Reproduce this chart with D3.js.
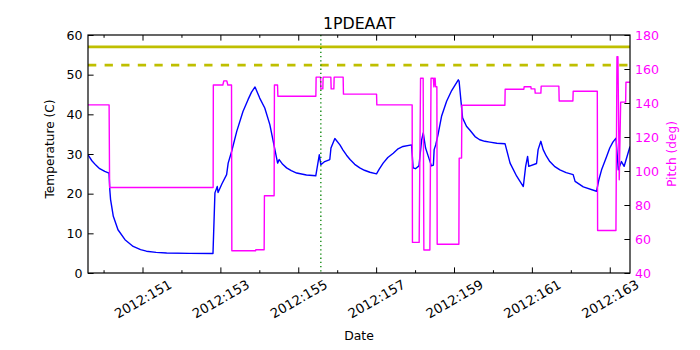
<!DOCTYPE html>
<html>
<head>
<meta charset="utf-8">
<script src="https://cdn.jsdelivr.net/npm/d3@7"></script>
<style>
body { margin: 0; background: #fff; }
text { font-family: "DejaVu Sans", sans-serif; }
</style>
</head>
<body>
<div id="chart"></div>
<script>
var title = "1PDEAAT";
// day of year 2012
var tempDay = [149.60,149.70,149.80,149.90,150.03,150.14,150.16,150.18,150.25,150.37,150.55,150.76,150.95,151.10,151.35,151.62,152.20,152.81,152.86,152.92,
			   152.94,153.04,153.16,153.20,153.29,153.42,153.58,153.71,153.80,153.89,154.01,154.14,154.27,154.40,154.47,154.51,154.60,154.70,154.82,154.96,
			   155.21,155.45,155.54,155.58,155.68,155.81,155.84,155.94,156.07,156.15,156.24,156.33,156.45,156.58,156.70,156.84,157.01,157.08,157.18,157.30,
			   157.44,157.55,157.69,157.91,157.95,158.01,158.10,158.17,158.21,158.27,158.34,158.42,158.47,158.49,158.53,158.59,158.68,158.81,158.94,159.11,
			   159.13,159.22,159.32,159.41,159.54,159.66,159.79,159.92,160.10,160.31,160.44,160.61,160.78,160.84,160.89,160.92,161.12,161.16,161.23,161.29,
			   161.37,161.46,161.58,161.72,161.88,162.06,162.11,162.32,162.66,162.72,162.79,162.92,163.00,163.08,163.16,163.22,163.30,163.37,163.52];
var tempVal = [29.8,28.3,27.2,26.3,25.6,25.2,21.0,18.5,14.3,10.9,8.4,6.7,5.9,5.5,5.2,5.05,4.95,4.9,20.2,21.8,
			   20.3,22.5,24.8,27.7,30.7,35.7,40.7,43.7,45.6,46.9,44.1,41.6,37.4,31.1,27.7,28.6,27.4,26.5,25.8,25.2,
			   24.7,24.5,29.8,27.3,28.1,28.6,31.5,33.9,32.3,31.0,29.7,28.6,27.4,26.5,25.9,25.4,25.0,26.2,27.7,29.1,
			   30.2,31.2,31.9,32.3,26.5,26.3,27.0,33.6,35.3,31.5,29.4,27.0,27.2,31.1,32.3,34.9,39.5,43.3,46.0,48.7,
			   48.4,39.1,37.0,36.0,34.4,33.6,33.2,33.0,32.7,32.6,27.7,24.4,21.8,26.9,29.4,26.9,27.6,31.1,33.2,31.1,
			   29.5,28.1,26.9,26.0,25.3,24.8,23.1,21.7,20.6,23.5,26.0,29.4,31.5,33.0,34.0,26.0,28.1,26.9,31.9];
var pitchDay = [149.60,150.142,150.155,152.814,152.819,153.063,153.088,153.165,153.191,153.286,153.294,153.903,153.910,154.124,154.131,154.380,
				154.388,154.468,154.476,155.452,155.459,155.572,155.580,155.631,155.639,155.837,155.845,155.914,155.922,156.153,156.161,157.011,
				157.018,157.925,157.933,158.105,158.141,158.208,158.226,158.380,158.410,158.470,158.483,158.501,158.516,158.526,158.560,158.568,
				159.125,159.133,159.194,159.202,160.307,160.314,160.794,160.802,160.974,160.982,161.077,161.085,161.231,161.239,161.693,161.701,
				162.053,162.061,162.680,162.688,163.159,163.185,163.210,163.244,163.280,163.408,163.416,163.518];
var pitchVal = [138.9,138.9,90.3,90.3,150.6,150.6,153.0,153.0,150.6,150.6,53.1,53.1,53.7,53.7,85.4,85.4,
				150.6,150.6,144.0,144.0,155.2,155.2,148.3,148.3,155.2,155.2,148.3,148.3,155.2,155.2,145.2,145.2,
				138.9,138.9,58.0,58.0,154.6,154.6,53.5,53.5,154.6,154.6,149.5,154.6,154.6,149.6,149.6,56.9,
				56.9,107.6,107.6,138.7,138.7,148.1,148.1,149.6,149.6,148.3,148.3,145.8,145.8,149.9,149.9,141.2,
				141.2,146.9,146.9,65.0,65.0,167.3,167.3,94.8,140.5,140.5,152.2,152.2];

var tempTicks = [0, 10, 20, 30, 40, 50, 60];
var pitchTicks = [40, 60, 80, 100, 120, 140, 160, 180];
var majorDays = [151, 153, 155, 157, 159, 161, 163];
var minorDays = [150, 152, 154, 156, 158, 160, 162];
var dayRange = [149.6, 163.52];
var limitHigh = 57.0;
var limitLow = 52.4;
var markerDay = 155.58;

// plot box (window.top is taken, so no plain "top")
var pL = 88, pR = 630, pT = 35, pB = 273;
var magenta = "#ff00ff";

var svg = d3.select("#chart").append("svg")
	.attr("width", 700)
	.attr("height", 350);

var x = d3.scaleLinear().domain(dayRange).range([pL, pR]);
var yT = d3.scaleLinear().domain([0, 60]).range([pB, pT]);
var yP = d3.scaleLinear().domain([40, 180]).range([pB, pT]);

svg.append("clipPath").attr("id", "plotclip")
	.append("rect")
	.attr("x", pL).attr("y", pT)
	.attr("width", pR - pL).attr("height", pB - pT);

var plot = svg.append("g").attr("clip-path", "url(#plotclip)");

// limit lines
plot.append("line")
	.attr("x1", pL).attr("x2", pR)
	.attr("y1", yT(limitHigh)).attr("y2", yT(limitHigh))
	.attr("stroke", "#bfbf00").attr("stroke-width", 2.8);
plot.append("line")
	.attr("x1", pL).attr("x2", pR)
	.attr("y1", yT(limitLow)).attr("y2", yT(limitLow))
	.attr("stroke", "#bfbf00").attr("stroke-width", 2.8)
	.attr("stroke-dasharray", "8.3,8.3");

var tempLine = d3.line()
	.x(function (d) { return x(d[0]); })
	.y(function (d) { return yT(d[1]); });
var pitchLine = d3.line()
	.x(function (d) { return x(d[0]); })
	.y(function (d) { return yP(d[1]); });

plot.append("path")
	.datum(d3.zip(tempDay, tempVal))
	.attr("d", tempLine)
	.attr("fill", "none")
	.attr("stroke", "#0000ff")
	.attr("stroke-width", 1.4)
	.attr("stroke-linejoin", "round");

plot.append("path")
	.datum(d3.zip(pitchDay, pitchVal))
	.attr("d", pitchLine)
	.attr("fill", "none")
	.attr("stroke", magenta)
	.attr("stroke-width", 1.4)
	.attr("stroke-linejoin", "round");

plot.append("line")
	.attr("x1", x(markerDay)).attr("x2", x(markerDay))
	.attr("y1", pT).attr("y2", pB)
	.attr("stroke", "#008000").attr("stroke-width", 1.3)
	.attr("stroke-dasharray", "1.3,2.9");

// axes
function styleAxis(g) {
	g.select(".domain").remove();
	g.selectAll("line").attr("stroke", "#000").attr("stroke-width", 1);
	g.attr("font-size", 12.6).attr("font-family", "DejaVu Sans, sans-serif");
}

var xAxis = svg.append("g")
	.attr("transform", "translate(0," + pB + ")")
	.call(d3.axisBottom(x).tickValues(majorDays).tickSize(-5.6)
		.tickFormat(function (d) { return "2012:" + d; }))
	.call(styleAxis);
xAxis.selectAll("text")
	.attr("y", 0).attr("dy", "0.35em")
	.attr("font-size", 13.2)
	.attr("text-anchor", "middle")
	.attr("transform", "translate(0,26) rotate(-30)")
	.attr("fill", "#000");

svg.append("g")
	.attr("transform", "translate(0," + pB + ")")
	.call(d3.axisBottom(x).tickValues(minorDays).tickSize(-2.8).tickFormat(""))
	.call(styleAxis);
svg.append("g")
	.attr("transform", "translate(0," + pT + ")")
	.call(d3.axisTop(x).tickValues(majorDays).tickSize(-5.6).tickFormat(""))
	.call(styleAxis);
svg.append("g")
	.attr("transform", "translate(0," + pT + ")")
	.call(d3.axisTop(x).tickValues(minorDays).tickSize(-2.8).tickFormat(""))
	.call(styleAxis);

var yAxisL = svg.append("g")
	.attr("transform", "translate(" + pL + ",0)")
	.call(d3.axisLeft(yT).tickValues(tempTicks).tickSize(-5.6).tickPadding(5.5))
	.call(styleAxis);
yAxisL.selectAll("text").attr("fill", "#000");

var yAxisR = svg.append("g")
	.attr("transform", "translate(" + pR + ",0)")
	.call(d3.axisRight(yP).tickValues(pitchTicks).tickSize(-5.6).tickPadding(5))
	.call(styleAxis);
yAxisR.selectAll("text").attr("fill", magenta);

// frame
svg.append("rect")
	.attr("x", pL).attr("y", pT)
	.attr("width", pR - pL).attr("height", pB - pT)
	.attr("fill", "none").attr("stroke", "#000").attr("stroke-width", 1.2);

// labels
svg.append("text")
	.attr("x", (pL + pR) / 2).attr("y", 29)
	.attr("text-anchor", "middle")
	.attr("font-size", 15.8)
	.text(title);

svg.append("text")
	.attr("x", (pL + pR) / 2).attr("y", 340)
	.attr("text-anchor", "middle")
	.attr("font-size", 12.4)
	.text("Date");

svg.append("text")
	.attr("transform", "translate(49.5,149) rotate(-90)")
	.attr("dy", "0.35em")
	.attr("text-anchor", "middle")
	.attr("font-size", 12.2)
	.text("Temperature (C)");

svg.append("text")
	.attr("transform", "translate(672,154) rotate(-90)")
	.attr("dy", "0.35em")
	.attr("text-anchor", "middle")
	.attr("font-size", 12.2)
	.attr("fill", magenta)
	.text("Pitch (deg)");
</script>
</body>
</html>
